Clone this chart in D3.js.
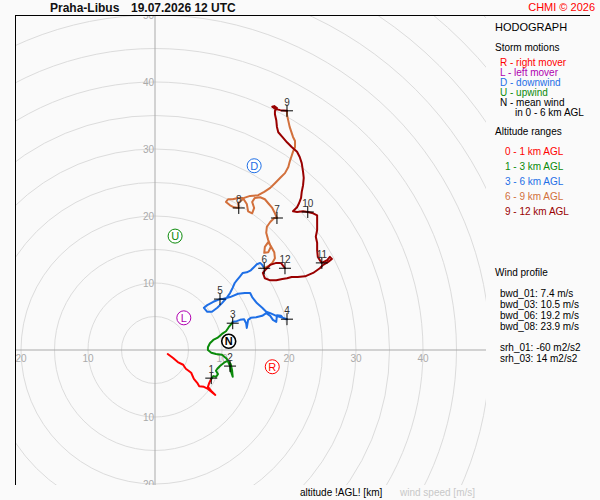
<!DOCTYPE html>
<html>
<head>
<meta charset="utf-8">
<script src="https://cdn.jsdelivr.net/npm/d3@7"></script>
<style>
  body { margin: 0; background: #fafafa; }
  svg { display: block; font-family: "Liberation Sans", Arial, sans-serif; }
</style>
</head>
<body>
<svg id="chart" width="600" height="500"></svg>
<script>
// hodograph trace, [u, v] in m/s, one array per altitude range
const seg0to1 = [
  [1.9, -0.6], [2.7, -1.2], [3.4, -1.8], [4.2, -2.2], [4.6, -2.8], [5.4, -3.4],
  [5.8, -4.3], [6.3, -4.9], [6.6, -5.4], [7.3, -5.5], [7.9, -5.8], [8.5, -6.3],
  [9.0, -6.7], [8.4, -6.1], [7.9, -5.5], [8.1, -4.9], [8.4, -4.3]
];
const seg1to3 = [
  [8.4, -4.3], [8.7, -3.9], [9.1, -4.0], [9.4, -3.6], [9.1, -3.1], [9.3, -2.8],
  [9.7, -2.4], [10.3, -1.9], [10.9, -1.6], [11.3, -2.1], [11.5, -3.0], [11.6, -4.0],
  [11.3, -3.1], [11.2, -2.4], [10.7, -1.3], [10.0, -0.7], [9.1, -0.6], [8.4, -0.4],
  [7.9, 0.0], [7.9, 0.4], [8.2, 1.0], [8.7, 1.5], [9.3, 1.8], [10.0, 2.4],
  [10.6, 2.8], [11.0, 3.4], [11.5, 4.0], [11.6, 4.2]
];
const seg3to6 = [
  [11.6, 4.2], [12.2, 4.3], [12.7, 4.5], [13.3, 4.6], [13.6, 4.0], [13.7, 3.3],
  [13.9, 4.5], [14.3, 4.8], [15.1, 4.9], [16.0, 5.1], [16.6, 5.5], [17.2, 5.1],
  [17.6, 4.5], [18.1, 4.2], [18.2, 5.2], [18.8, 5.1], [19.1, 4.8], [19.7, 4.6],
  [18.8, 4.9], [18.1, 5.1], [17.2, 5.5], [16.6, 5.7], [16.0, 6.3], [15.2, 7.0],
  [14.5, 7.9], [14.2, 8.5], [13.4, 8.5], [12.4, 8.4], [11.2, 7.9], [10.1, 7.6],
  [9.7, 7.6], [8.7, 7.2], [7.8, 6.7], [7.3, 6.3], [7.8, 5.7], [8.5, 5.7],
  [9.3, 6.3], [10.0, 7.0], [10.7, 7.8], [11.2, 8.5], [11.6, 9.3], [11.9, 10.0],
  [12.2, 10.4], [12.7, 11.0], [13.1, 11.5], [13.7, 11.6], [14.3, 11.9], [14.8, 12.4],
  [15.2, 12.8], [15.7, 13.0], [16.0, 12.7], [16.3, 12.2]
];
const seg6to9 = [
  [16.3, 12.2], [16.9, 12.5], [17.5, 13.0], [17.9, 13.7], [17.8, 14.6], [17.3, 15.5],
  [16.9, 16.1], [16.4, 15.4], [16.3, 14.5], [16.9, 14.6], [17.3, 15.4], [16.9, 16.4],
  [16.6, 17.5], [16.7, 18.4], [17.2, 19.1], [17.8, 19.7], [18.2, 19.7], [17.9, 20.4],
  [17.5, 21.2], [16.9, 21.9], [16.4, 22.5], [15.7, 22.8], [14.9, 22.7], [14.5, 22.1],
  [14.8, 21.2], [14.5, 20.4], [13.9, 20.7], [13.7, 21.8], [13.1, 22.7], [12.4, 22.7],
  [11.6, 22.5], [10.9, 22.5], [10.6, 22.1], [11.2, 21.6], [11.8, 21.3], [12.5, 21.2],
  [12.4, 21.9], [13.3, 22.7], [14.2, 23.0], [15.4, 23.1], [16.3, 23.6], [17.2, 24.2],
  [17.9, 24.9], [18.7, 25.7], [19.4, 26.4], [19.9, 27.3], [20.1, 28.1], [20.4, 29.0],
  [20.6, 29.6], [20.9, 30.3], [20.9, 31.2], [20.6, 31.8], [20.3, 32.7], [20.1, 33.3],
  [19.9, 34.2], [19.7, 35.1], [19.7, 35.7]
];
const seg9to12 = [
  [19.7, 35.7], [18.7, 35.8], [17.9, 36.0], [17.5, 36.3], [17.8, 36.4], [18.2, 36.1],
  [17.9, 35.7], [17.9, 35.2], [18.1, 34.3], [18.2, 33.3], [18.4, 32.5], [19.0, 31.8],
  [19.7, 31.0], [20.4, 30.3], [21.2, 29.6], [21.6, 28.8], [21.9, 27.9], [22.1, 26.6],
  [22.2, 25.7], [22.1, 24.6], [21.9, 23.6], [21.8, 22.7], [21.5, 21.9], [21.2, 21.3],
  [20.6, 20.7], [21.2, 20.6], [22.1, 20.7], [22.8, 20.6], [23.6, 20.4], [24.2, 20.1],
  [24.2, 19.1], [24.2, 17.9], [24.0, 16.9], [24.2, 16.0], [24.2, 14.9], [24.3, 13.9],
  [24.8, 13.1], [24.9, 13.0], [25.7, 13.4], [26.1, 13.9], [26.4, 13.6], [25.8, 13.1],
  [25.1, 12.7], [24.6, 12.2], [23.6, 11.5], [22.4, 11.0], [21.3, 10.9], [20.4, 10.9],
  [19.7, 10.7], [19.0, 10.6], [18.1, 10.4], [17.2, 10.4], [16.4, 10.7], [16.1, 11.5],
  [16.6, 12.1], [17.2, 12.7], [18.1, 13.0], [18.8, 13.0], [19.4, 12.2]
];
const segments = [seg0to1, seg1to3, seg3to6, seg6to9, seg9to12];
const segColors = ["#ff0000", "#0a8a0a", "#1e6fe6", "#d2703c", "#990000"];
const segLabels = ["0 - 1 km AGL", "1 - 3 km AGL", "3 - 6 km AGL", "6 - 9 km AGL", "9 - 12 km AGL"];

// km markers
const kmLabels = ["1", "2", "3", "4", "5", "6", "7", "8", "9", "10", "11", "12"];
const kmU = [8.4, 11.2, 11.6, 19.7, 9.7, 16.3, 18.2, 12.5, 19.7, 22.8, 24.9, 19.4];
const kmV = [-4.2, -2.4, 4.0, 4.6, 7.6, 12.2, 19.7, 21.2, 35.7, 20.6, 13.0, 12.2];

// storm motions
const stormKeys = ["R", "L", "D", "U", "N"];
const stormU = [17.5, 4.3, 14.8, 3.0, 11.0];
const stormV = [-2.5, 4.8, 27.5, 17.0, 1.3];
const stormColors = ["#ff0000", "#b000b0", "#1e6fe6", "#0a8a0a", "#000000"];
const stormText = ["R - right mover", "L - left mover", "D - downwind", "U - upwind", "N - mean wind"];

// wind profile
const profileText = ["bwd_01: 7.4 m/s", "bwd_03: 10.5 m/s", "bwd_06: 19.2 m/s", "bwd_08: 23.9 m/s"];
const helicityText = ["srh_01: -60 m2/s2", "srh_03: 14 m2/s2"];

// rings and tick labels
const ringSpeeds = d3.range(5, 90, 5);
const xTicks = [-20, -10, 10, 20, 30, 40];
const yTicks = [-20, -10, 10, 20, 30, 40, 50];

const svg = d3.select("#chart");
const plot = { left: 15, top: 15, right: 486, bottom: 485 };

const x = d3.scaleLinear().domain([0, 50]).range([155, 490]);
const y = d3.scaleLinear().domain([0, 50]).range([350, 15]);
const r = v => x(v) - x(0);

svg.append("clipPath").attr("id", "plotclip")
  .append("rect")
  .attr("x", plot.left).attr("y", plot.top)
  .attr("width", plot.right - plot.left).attr("height", plot.bottom - plot.top);

const g = svg.append("g").attr("clip-path", "url(#plotclip)");

g.selectAll("circle.ring")
  .data(ringSpeeds)
  .enter().append("circle")
  .attr("class", "ring")
  .attr("cx", x(0)).attr("cy", y(0))
  .attr("r", d => r(d))
  .attr("fill", "none")
  .attr("stroke", "#dcdcdc");

g.append("line")
  .attr("x1", plot.left).attr("x2", plot.right)
  .attr("y1", y(0)).attr("y2", y(0))
  .attr("stroke", "#aaa");
g.append("line")
  .attr("x1", x(0)).attr("x2", x(0))
  .attr("y1", plot.top).attr("y2", plot.bottom)
  .attr("stroke", "#aaa");

g.selectAll("text.xt")
  .data(xTicks)
  .enter().append("text")
  .attr("class", "xt")
  .attr("x", d => x(d))
  .attr("y", y(0) + 12)
  .attr("text-anchor", "middle")
  .attr("font-size", 10)
  .attr("fill", "#aaa")
  .text(d => Math.abs(d));

g.selectAll("text.yt")
  .data(yTicks)
  .enter().append("text")
  .attr("class", "yt")
  .attr("x", x(0) - 1)
  .attr("y", d => y(d) + 4)
  .attr("text-anchor", "end")
  .attr("font-size", 10)
  .attr("fill", "#aaa")
  .text(d => Math.abs(d));

const line = d3.line().x(d => x(d[0])).y(d => y(d[1]));

g.selectAll("path.seg")
  .data(segments)
  .enter().append("path")
  .attr("class", "seg")
  .attr("d", line)
  .attr("fill", "none")
  .attr("stroke", (d, i) => segColors[i])
  .attr("stroke-width", 2)
  .attr("stroke-linejoin", "round")
  .attr("stroke-linecap", "round");

const marks = g.selectAll("g.km")
  .data(kmLabels)
  .enter().append("g")
  .attr("class", "km")
  .attr("transform", (d, i) => `translate(${x(kmU[i])},${y(kmV[i])})`);
marks.append("path")
  .attr("d", "M-6,0H6M0,-6V6")
  .attr("stroke", "#000")
  .attr("stroke-width", 1);
marks.append("text")
  .attr("y", -5)
  .attr("text-anchor", "middle")
  .attr("font-size", 10)
  .attr("fill", "#333")
  .text(d => d);

const storms = g.selectAll("g.storm")
  .data(stormKeys)
  .enter().append("g")
  .attr("class", "storm")
  .attr("transform", (d, i) => `translate(${x(stormU[i])},${y(stormV[i])})`);
storms.append("circle")
  .attr("r", 7)
  .attr("fill", "#fff")
  .attr("stroke", (d, i) => stormColors[i])
  .attr("stroke-width", d => d === "N" ? 1.6 : 1);
storms.append("text")
  .attr("y", 4)
  .attr("text-anchor", "middle")
  .attr("font-size", 11)
  .attr("font-weight", d => d === "N" ? "bold" : "normal")
  .attr("fill", (d, i) => stormColors[i])
  .text(d => d);

// frame
svg.append("line").attr("x1", 15).attr("x2", 590).attr("y1", 15.5).attr("y2", 15.5).attr("stroke", "#000");
svg.append("line").attr("x1", 15.5).attr("x2", 15.5).attr("y1", 15).attr("y2", 485).attr("stroke", "#000");

// header
svg.append("text").attr("x", 50).attr("y", 12).attr("font-size", 12).attr("font-weight", "bold")
  .attr("fill", "#111").text("Praha-Libus");
svg.append("text").attr("x", 131).attr("y", 12).attr("font-size", 12).attr("font-weight", "bold")
  .attr("fill", "#111").text("19.07.2026 12 UTC");
svg.append("text").attr("x", 595).attr("y", 11).attr("font-size", 11).attr("text-anchor", "end")
  .attr("fill", "#ff0000").text("CHMI © 2026");

// legend
const leg = svg.append("g");
leg.append("text").attr("x", 495).attr("y", 31).attr("font-size", 11).text("HODOGRAPH");
leg.append("text").attr("x", 495).attr("y", 51).attr("font-size", 10).text("Storm motions");
leg.selectAll("text.sm")
  .data(stormText)
  .enter().append("text")
  .attr("class", "sm")
  .attr("x", 500)
  .attr("y", (d, i) => 66 + i * 10)
  .attr("font-size", 10)
  .attr("fill", (d, i) => stormColors[i])
  .text(d => d);
leg.append("text").attr("x", 515).attr("y", 116).attr("font-size", 10).text("in 0 - 6 km AGL");

leg.append("text").attr("x", 495).attr("y", 135).attr("font-size", 10).text("Altitude ranges");
leg.selectAll("text.alt")
  .data(segLabels)
  .enter().append("text")
  .attr("class", "alt")
  .attr("x", 505)
  .attr("y", (d, i) => 155 + i * 15)
  .attr("font-size", 10)
  .attr("fill", (d, i) => segColors[i])
  .text(d => d);

leg.append("text").attr("x", 495).attr("y", 276).attr("font-size", 10).text("Wind profile");
leg.selectAll("text.bwd")
  .data(profileText)
  .enter().append("text")
  .attr("class", "bwd")
  .attr("x", 500)
  .attr("y", (d, i) => 297 + i * 11)
  .attr("font-size", 10)
  .text(d => d);
leg.selectAll("text.srh")
  .data(helicityText)
  .enter().append("text")
  .attr("class", "srh")
  .attr("x", 500)
  .attr("y", (d, i) => 351 + i * 11)
  .attr("font-size", 10)
  .text(d => d);

// footer
svg.append("text").attr("x", 300).attr("y", 496).attr("font-size", 10).text("altitude !AGL! [km]");
svg.append("text").attr("x", 400).attr("y", 496).attr("font-size", 10).attr("fill", "#c8c8c8").text("wind speed [m/s]");
</script>
</body>
</html>
